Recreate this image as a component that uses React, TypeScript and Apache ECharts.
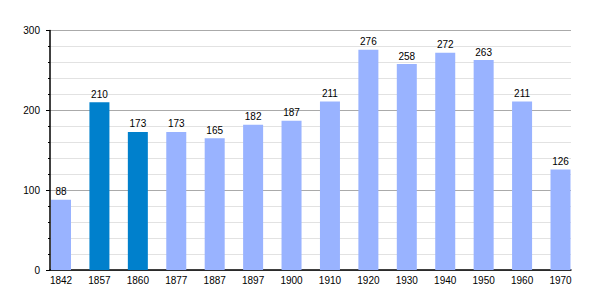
import React, { useEffect, useRef } from "react";
import * as echarts from "echarts";

const years = ["1842", "1857", "1860", "1877", "1887", "1897", "1900", "1910", "1920", "1930", "1940", "1950", "1960", "1970"];
const population = [88, 210, 173, 173, 165, 182, 187, 211, 276, 258, 272, 263, 211, 126];
const highlighted = ["1857", "1860"];
const lightColor = "#99b3ff";
const darkColor = "#0080cc";
const font = "Liberation Sans, Arial, sans-serif";

export default function App() {
  const ref = useRef<HTMLDivElement>(null);
  useEffect(() => {
    if (!ref.current) return;
    const chart = echarts.init(ref.current, null, { renderer: "svg" });
    chart.setOption({
      animation: false,
      grid: [
        { left: 50, right: 29, top: 30.5, bottom: 30 },
        { left: 61, right: 39.5, top: 30.5, bottom: 30 },
      ],
      xAxis: [
        {
          gridIndex: 0,
          type: "category",
          data: years,
          axisLine: { show: true, lineStyle: { color: "#000", width: 1.5 } },
          axisTick: { show: false },
          axisLabel: { show: false },
          splitLine: { show: false },
        },
        {
          gridIndex: 1,
          type: "category",
          data: years,
          boundaryGap: false,
          axisLine: { show: false },
          axisTick: { show: false },
          splitLine: { show: false },
          axisLabel: { color: "#000", fontSize: 10, fontFamily: font, margin: 5, interval: 0 },
        },
      ],
      yAxis: [
        {
          gridIndex: 0,
          type: "value",
          min: 0,
          max: 300,
          interval: 100,
          axisLine: { show: true, lineStyle: { color: "#000", width: 1.5 } },
          axisTick: { show: true, length: 4, lineStyle: { color: "#000" } },
          minorTick: { show: true, splitNumber: 5, length: 2, lineStyle: { color: "#000" } },
          splitLine: { show: true, lineStyle: { color: "#aaa", width: 1 } },
          minorSplitLine: { show: true, lineStyle: { color: "#e2e2e2", width: 1 } },
          axisLabel: { color: "#000", fontSize: 10, fontFamily: font, margin: 10 },
        },
        {
          gridIndex: 1,
          type: "value",
          min: 0,
          max: 300,
          interval: 100,
          show: false,
          splitLine: { show: false },
        },
      ],
      series: [
        {
          type: "bar",
          xAxisIndex: 1,
          yAxisIndex: 1,
          barWidth: 20,
          data: population.map((v, i) => ({
            value: v,
            itemStyle: { color: highlighted.includes(years[i]) ? darkColor : lightColor },
          })),
          label: {
            show: true,
            position: "top",
            distance: 3,
            color: "#000",
            fontSize: 10,
            fontFamily: font,
          },
        },
      ],
    });
    return () => chart.dispose();
  }, []);
  return <div ref={ref} style={{ width: 600, height: 300, position: "absolute", left: 0, top: 0 }} />;
}
